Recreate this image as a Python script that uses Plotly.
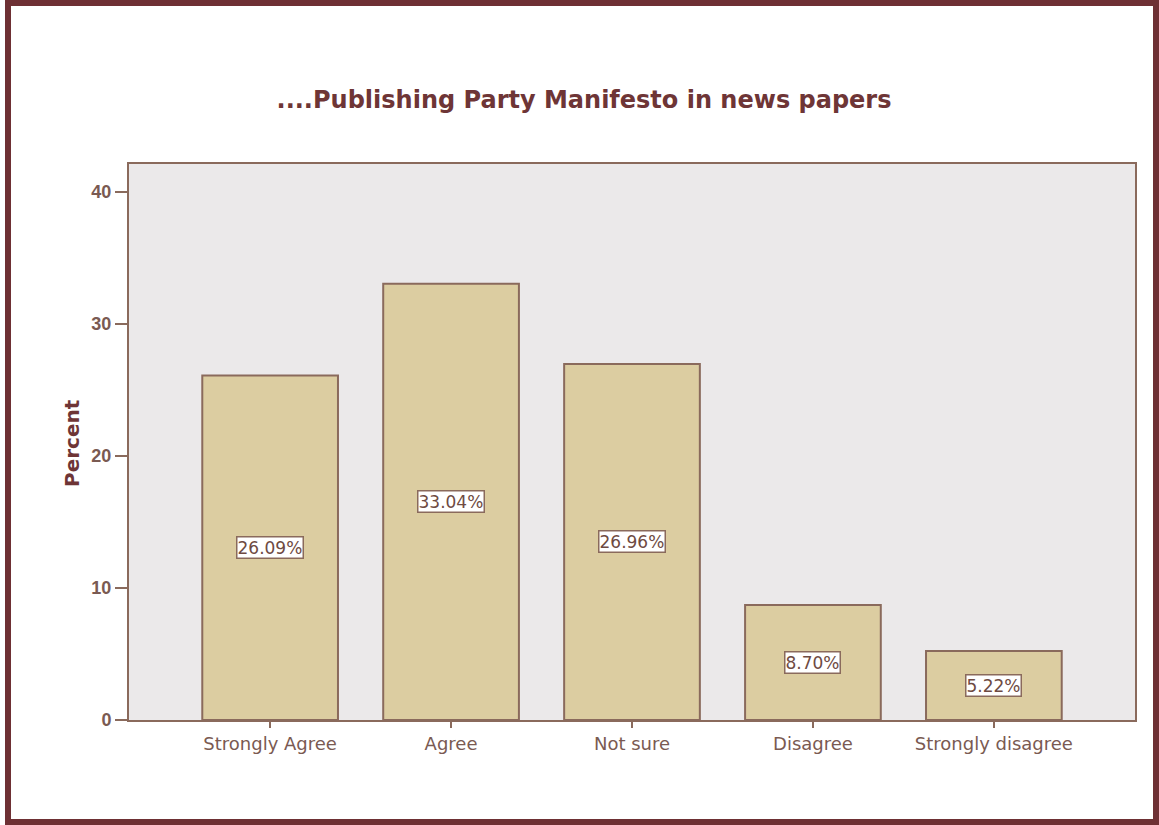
import plotly.graph_objects as go

categories = ["Strongly Agree", "Agree", "Not sure", "Disagree", "Strongly disagree"]
percents = [26.09, 33.04, 26.96, 8.70, 5.22]
y_ticks = [0, 10, 20, 30, 40]

BAR_FILL = "#dccda1"
EDGE = "#8a6a5c"
TEXT = "#6e4a42"
TICK_TEXT = "#7a5a52"
HEAD = "#6e3536"
FRAME = "#6e3034"

fig = go.Figure()
fig.add_trace(go.Bar(
    x=list(range(len(categories))),
    y=percents,
    width=0.75,
    marker=dict(color=BAR_FILL, line=dict(color=EDGE, width=2)),
    hoverinfo="skip",
))

# value labels in boxed tags at mid-height of each bar
for i, v in enumerate(percents):
    fig.add_annotation(
        x=i, y=v / 2, text=f"{v:.2f}%", showarrow=False,
        font=dict(family="DejaVu Sans", size=17, color=TEXT),
        bgcolor="white", bordercolor=EDGE, borderwidth=1.5, borderpad=0,
    )

W, H = 1159, 825
L, R, T, B = 129, 24, 164, 105
pw, ph = W - L - R, H - T - B

def px_x(p):
    return (p - L) / pw

def px_y(p):
    return (H - B - p) / ph

# y-axis title
fig.add_annotation(
    xref="paper", yref="paper", x=px_x(72), y=px_y(443),
    text="<b>Percent</b>", textangle=-90, showarrow=False,
    xanchor="center", yanchor="middle",
    font=dict(family="DejaVu Sans", size=20, color=HEAD),
)

# outer frame around the whole figure
fig.add_shape(type="rect", xref="paper", yref="paper",
              x0=px_x(8), x1=px_x(1156), y0=px_y(822), y1=px_y(3),
              line=dict(color=FRAME, width=6), layer="above")

fig.update_layout(
    width=W, height=H,
    margin=dict(l=L, r=R, t=T, b=B, pad=0),
    paper_bgcolor="white",
    plot_bgcolor="#ebe9ea",
    showlegend=False,
    title=dict(
        text="<b>....Publishing Party Manifesto in news papers</b>",
        x=584 / W, xanchor="center", y=1 - 100 / H, yanchor="middle",
        font=dict(family="DejaVu Sans", size=24, color=HEAD),
    ),
    xaxis=dict(
        range=[-0.78, 4.78],
        tickmode="array", tickvals=list(range(len(categories))), ticktext=categories,
        ticks="outside", ticklen=6, tickwidth=2, tickcolor=EDGE,
        showline=True, linecolor=EDGE, linewidth=2, mirror=True,
        showgrid=False, zeroline=False,
        tickfont=dict(family="DejaVu Sans", size=18, color=TICK_TEXT),
    ),
    yaxis=dict(
        range=[0, 42.1],
        tickmode="array", tickvals=y_ticks,
        ticks="outside", ticklen=12, tickwidth=2, tickcolor=EDGE,
        showline=True, linecolor=EDGE, linewidth=2, mirror=True,
        showgrid=False, zeroline=False,
        tickfont=dict(family="Liberation Sans", size=18, color=TICK_TEXT, weight="bold"),
    ),
)

fig.write_html("out.html")
